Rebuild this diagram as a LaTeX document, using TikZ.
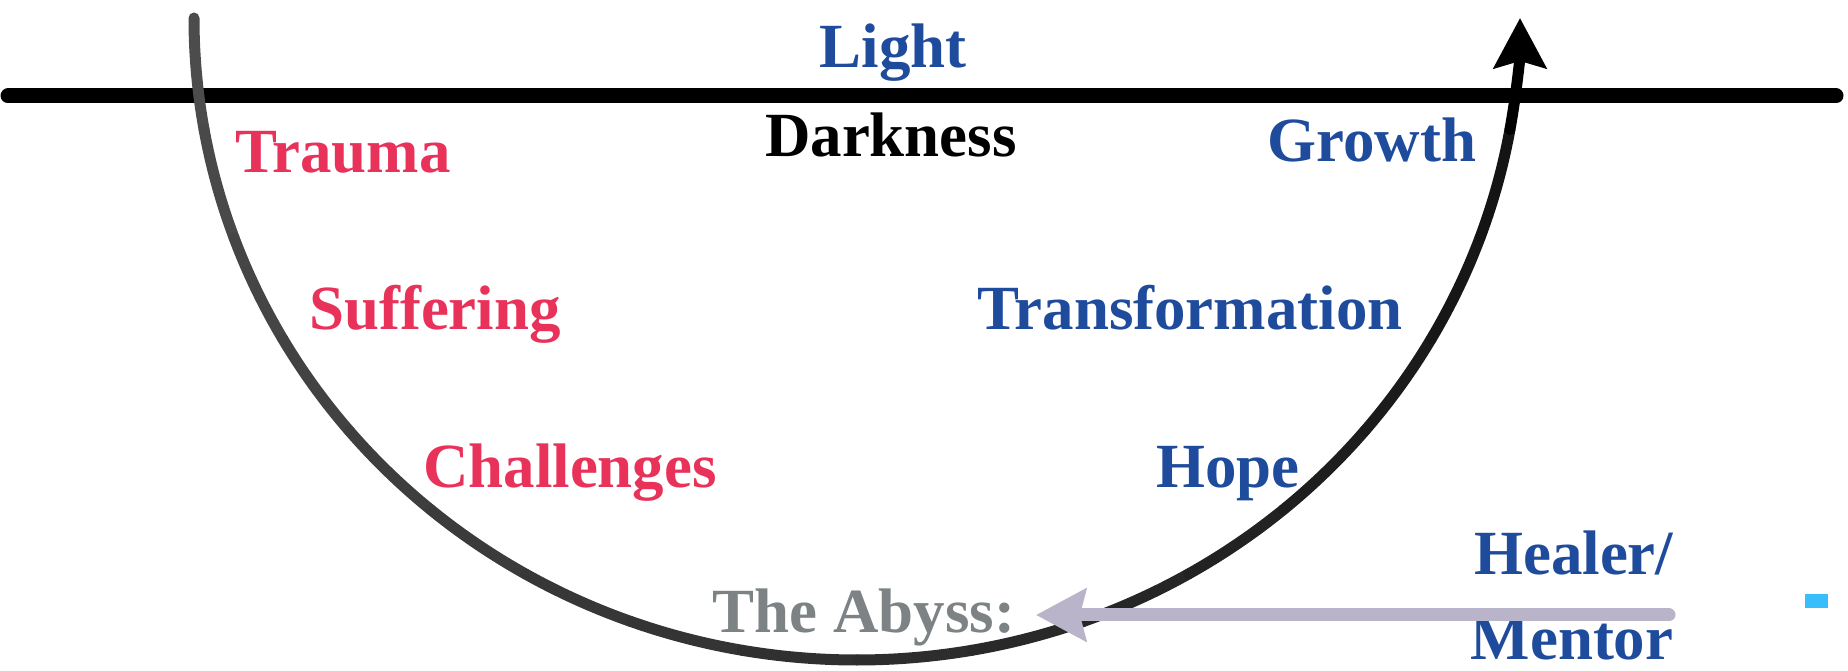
\documentclass[tikz,border=0pt]{standalone}
\usepackage{fontspec}
\setmainfont{Liberation Serif}
\usepackage{xcolor}
\usetikzlibrary{positioning,arrows.meta}
\definecolor{painred}{RGB}{232,50,90}
\definecolor{hopeblue}{RGB}{30,75,155}
\definecolor{abyssgray}{RGB}{125,130,132}
\definecolor{mentorgray}{RGB}{186,180,202}
\definecolor{spotcyan}{RGB}{56,190,250}

\begin{document}
\begin{tikzpicture}[
  word/.style={font=\fontsize{17.9}{24.2}\selectfont\bfseries, anchor=base, inner sep=0.2cm},
  pain/.style={word, text=painred},
  heal/.style={word, text=hopeblue},
  horizon/.style={line width=0.15cm, line cap=round},
  journey/.style={line width=0.11cm, line cap=round},
  mentorarrow/.style={-{Stealth[length=0.5cm,width=0.52cm,inset=0.06cm]}, line width=0.13cm, color=mentorgray, line cap=round}
]
  \useasboundingbox (0,0) rectangle (18.48,-6.71);

  % light / darkness line
  \coordinate (hl) at (0.08,-0.96);
  \coordinate (hr) at (18.36,-0.96);
  \draw[horizon] (hl) -- (hr);

  % down into the abyss and back up
  \foreach \a in {180,190,...,340} {
    \pgfmathsetmacro\shade{70+25*(\a-180)/180}
    \draw[journey, color=black!\shade] ([shift={(\a:6.63 and 6.42)}]8.57,-0.18)
      arc[start angle=\a, delta angle=10, x radius=6.63, y radius=6.42];
  }
  \draw[journey, -{Stealth[length=0.5cm,width=0.52cm,inset=0.07cm]}] ([shift={(350:6.63 and 6.42)}]8.57,-0.18)
    arc[start angle=350, delta angle=10, x radius=6.63, y radius=6.42];

  \node[heal] (light) at (8.93,-0.68) {Light};
  \node[word] (darkness) at (8.91,-1.57) {Darkness};

  \node[pain] (trauma) at (3.43,-1.73) {Trauma};
  \node[pain] (suffering) at (4.35,-3.30) {Suffering};
  \node[pain] (challenges) at (5.70,-4.88) {Challenges};
  \node[word, text=abyssgray] (abyss) at (8.64,-6.33) {The Abyss:};

  \node[heal] (growth) at (13.72,-1.62) {Growth};
  \node[heal] (transformation) at (11.90,-3.30) {Transformation};
  \node[heal] (hope) at (12.28,-4.88) {Hope};
  \node[heal, anchor=south east, align=right] (mentor) at (16.94,-6.81) {Healer/\\Mentor};

  % helper reaching down
  \coordinate (tail) at (16.69,-6.15);
  \draw[mentorarrow] (tail) -- (abyss.east |- tail);

  \fill[spotcyan] (18.05,-5.94) rectangle (18.28,-6.08);
\end{tikzpicture}
\end{document}
